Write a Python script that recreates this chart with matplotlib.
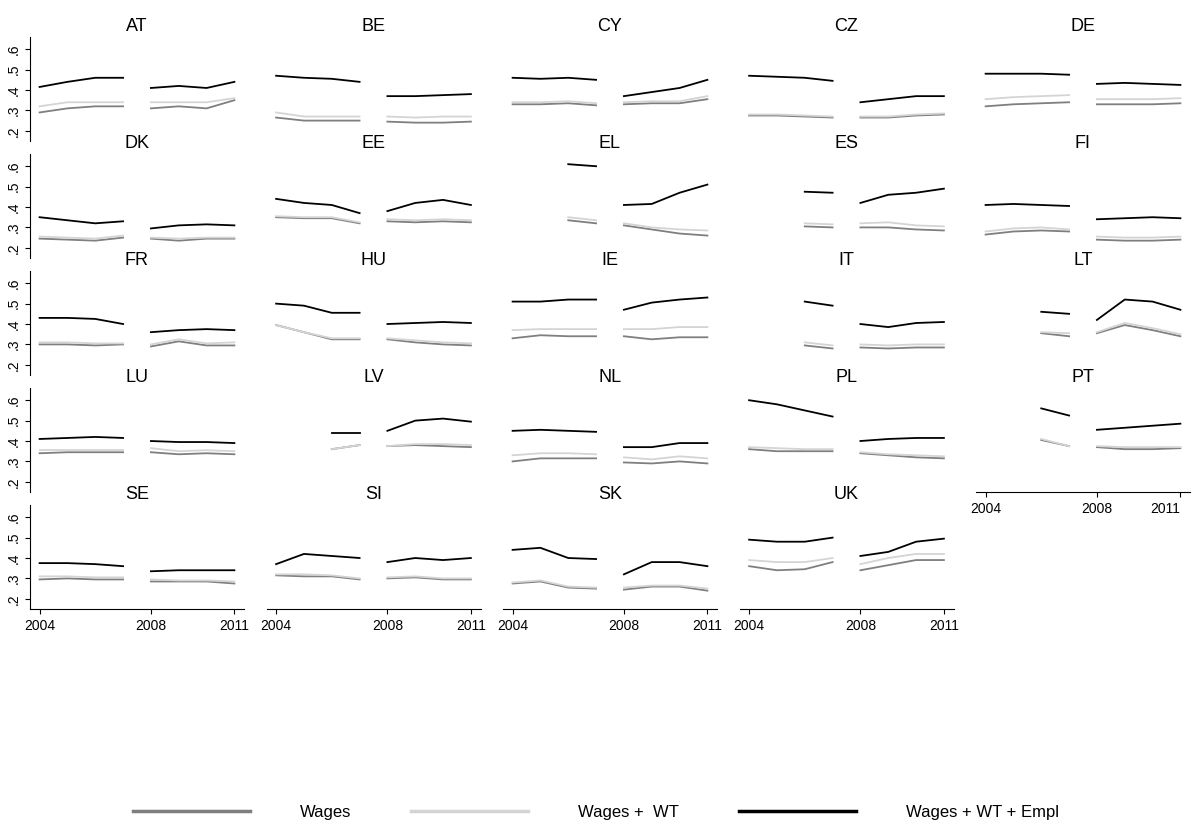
import numpy as np
import matplotlib
matplotlib.use("Agg")
import matplotlib.pyplot as plt
from matplotlib.lines import Line2D

plt.rcParams['font.family'] = ['Liberation Sans', 'DejaVu Sans']

years = [2004, 2005, 2006, 2007, 2008, 2009, 2010, 2011]
countries = ['AT', 'BE', 'CY', 'CZ', 'DE', 'DK', 'EE', 'EL', 'ES', 'FI', 'FR', 'HU',
             'IE', 'IT', 'LT', 'LU', 'LV', 'NL', 'PL', 'PT', 'SE', 'SI', 'SK', 'UK']
n = np.nan

wages = {
    'AT': [.29, .31, .32, .32, .31, .32, .31, .35],
    'BE': [.265, .25, .25, .25, .245, .24, .24, .245],
    'CY': [.33, .33, .335, .325, .33, .335, .335, .355],
    'CZ': [.275, .275, .27, .265, .265, .265, .275, .28],
    'DE': [.32, .33, .335, .34, .33, .33, .33, .335],
    'DK': [.245, .24, .235, .25, .245, .235, .245, .245],
    'EE': [.35, .345, .345, .32, .33, .325, .33, .325],
    'EL': [n, n, .335, .32, .31, .29, .27, .26],
    'ES': [n, n, .305, .30, .30, .30, .29, .285],
    'FI': [.265, .28, .285, .28, .24, .235, .235, .24],
    'FR': [.30, .30, .295, .30, .29, .315, .295, .295],
    'HU': [.395, .36, .325, .325, .325, .31, .30, .295],
    'IE': [.33, .345, .34, .34, .34, .325, .335, .335],
    'IT': [n, n, .295, .28, .285, .28, .285, .285],
    'LT': [n, n, .355, .34, .355, .395, .37, .34],
    'LU': [.34, .345, .345, .345, .345, .335, .34, .335],
    'LV': [n, n, .36, .38, .375, .38, .375, .37],
    'NL': [.30, .315, .315, .315, .295, .29, .30, .29],
    'PL': [.36, .35, .35, .35, .34, .33, .32, .315],
    'PT': [n, n, .405, .375, .37, .36, .36, .365],
    'SE': [.295, .30, .295, .295, .285, .285, .285, .275],
    'SI': [.315, .31, .31, .295, .30, .305, .295, .295],
    'SK': [.275, .285, .255, .25, .245, .26, .26, .24],
    'UK': [.36, .34, .345, .38, .34, .365, .39, .39],
}
wages_wt = {
    'AT': [.32, .34, .34, .34, .34, .34, .34, .36],
    'BE': [.29, .27, .27, .27, .27, .265, .27, .27],
    'CY': [.34, .34, .345, .335, .34, .345, .345, .37],
    'CZ': [.28, .28, .275, .27, .27, .27, .28, .285],
    'DE': [.355, .365, .37, .375, .355, .355, .355, .36],
    'DK': [.255, .25, .245, .26, .25, .245, .25, .25],
    'EE': [.355, .35, .35, .325, .34, .335, .34, .335],
    'EL': [n, n, .35, .335, .32, .30, .29, .285],
    'ES': [n, n, .32, .315, .32, .325, .31, .305],
    'FI': [.28, .295, .30, .29, .255, .25, .25, .255],
    'FR': [.31, .31, .305, .305, .30, .325, .305, .31],
    'HU': [.395, .36, .33, .33, .33, .32, .31, .305],
    'IE': [.37, .375, .375, .375, .375, .375, .385, .385],
    'IT': [n, n, .31, .295, .30, .295, .30, .30],
    'LT': [n, n, .36, .355, .36, .405, .38, .35],
    'LU': [.355, .355, .355, .355, .365, .35, .355, .35],
    'LV': [n, n, .36, .38, .375, .385, .385, .38],
    'NL': [.33, .34, .34, .335, .32, .31, .325, .315],
    'PL': [.37, .365, .36, .36, .345, .335, .33, .325],
    'PT': [n, n, .41, .375, .375, .37, .37, .37],
    'SE': [.31, .31, .305, .305, .295, .29, .29, .285],
    'SI': [.32, .32, .315, .30, .305, .31, .30, .30],
    'SK': [.28, .29, .26, .255, .255, .265, .265, .25],
    'UK': [.39, .38, .38, .40, .37, .40, .42, .42],
}
wages_wt_empl = {
    'AT': [.415, .44, .46, .46, .41, .42, .41, .44],
    'BE': [.47, .46, .455, .44, .37, .37, .375, .38],
    'CY': [.46, .455, .46, .45, .37, .39, .41, .45],
    'CZ': [.47, .465, .46, .445, .34, .355, .37, .37],
    'DE': [.48, .48, .48, .475, .43, .435, .43, .425],
    'DK': [.35, .335, .32, .33, .295, .31, .315, .31],
    'EE': [.44, .42, .41, .37, .38, .42, .435, .41],
    'EL': [n, n, .61, .60, .41, .415, .47, .51],
    'ES': [n, n, .475, .47, .42, .46, .47, .49],
    'FI': [.41, .415, .41, .405, .34, .345, .35, .345],
    'FR': [.43, .43, .425, .40, .36, .37, .375, .37],
    'HU': [.50, .49, .455, .455, .40, .405, .41, .405],
    'IE': [.51, .51, .52, .52, .47, .505, .52, .53],
    'IT': [n, n, .51, .49, .40, .385, .405, .41],
    'LT': [n, n, .46, .45, .42, .52, .51, .47],
    'LU': [.41, .415, .42, .415, .40, .395, .395, .39],
    'LV': [n, n, .44, .44, .45, .50, .51, .495],
    'NL': [.45, .455, .45, .445, .37, .37, .39, .39],
    'PL': [.60, .58, .55, .52, .40, .41, .415, .415],
    'PT': [n, n, .56, .525, .455, .465, .475, .485],
    'SE': [.375, .375, .37, .36, .335, .34, .34, .34],
    'SI': [.37, .42, .41, .40, .38, .40, .39, .40],
    'SK': [.44, .45, .40, .395, .32, .38, .38, .36],
    'UK': [.49, .48, .48, .50, .41, .43, .48, .495],
}

series = [(wages, '#7f7f7f', 'Wages'),
          (wages_wt, '#d4d4d4', 'Wages +  WT'),
          (wages_wt_empl, 'black', 'Wages + WT + Empl')]

W, H = 1192, 831
fig = plt.figure(figsize=(W / 100, H / 100), dpi=100)
yrs = np.array(years)
for i, c in enumerate(countries):
    r, col = divmod(i, 5)
    left = (30 + 236.5 * col) / W
    bottom = 1 - (37 + 117 * r + 104) / H
    ax = fig.add_axes([left, bottom, 214 / W, 104 / H])
    for d, color, lab in series:
        v = np.array(d[c], dtype=float)
        for seg in (slice(0, 4), slice(4, 8)):
            ax.plot(yrs[seg], v[seg], color=color, lw=1.3)
    ax.set_xlim(2003.655, 2011.345)
    ax.set_ylim(0.15, 0.66)
    ax.set_title(c, fontsize=13, pad=4)
    for s in ('top', 'right'):
        ax.spines[s].set_visible(False)
    if col == 0:
        ax.set_yticks([.2, .3, .4, .5, .6])
        ax.set_yticklabels(['.2', '.3', '.4', '.5', '.6'], rotation=90, va='center', fontsize=10)
    else:
        ax.set_yticks([])
        ax.spines['left'].set_visible(False)
    if r == 4 or c == 'PT':
        ax.set_xticks([2004, 2008, 2011])
        lbls = ax.set_xticklabels(['2004', '2008', '2011'], fontsize=10)
        if c == 'PT':
            lbls[-1].set_ha('right')
    else:
        ax.set_xticks([])
        ax.spines['bottom'].set_visible(False)

handles = [Line2D([], [], color=color, lw=2.5) for _, color, _ in series]
fig.legend(handles, [s[2] for s in series], loc='lower center', ncol=3,
           frameon=False, fontsize=12, handlelength=7, handletextpad=3,
           columnspacing=3.6, bbox_to_anchor=(0.5, -0.005))
fig.savefig('out.png', dpi=100)
